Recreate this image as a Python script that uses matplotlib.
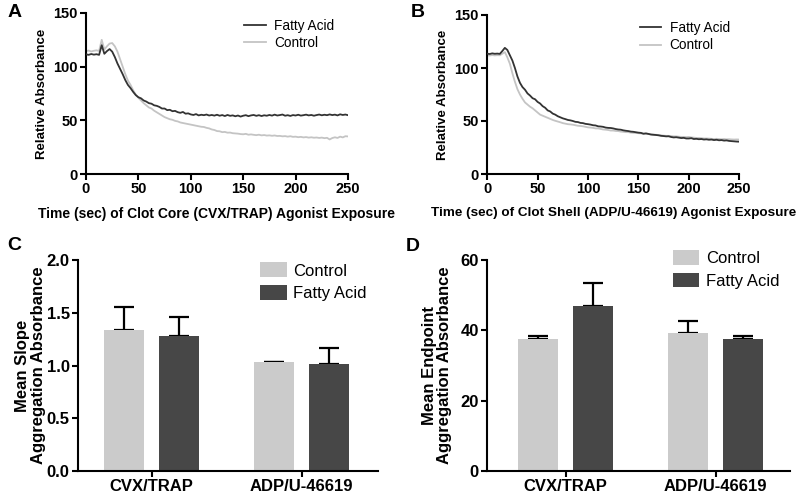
import numpy as np
import matplotlib
matplotlib.use("Agg")
import matplotlib.pyplot as plt

plt.rcParams['font.family'] = ['Liberation Sans', 'DejaVu Sans']

# ---------------- data ----------------
time_s = np.arange(0, 252.5, 2.5)

a_fatty = [111.5, 111.0, 111.8, 111.2, 111.6, 111.0, 120.0, 112.0, 114.5, 116.4,
           114.0, 109.0, 103.0, 98.0, 93.0, 87.5, 83.0, 80.0, 76.5, 73.5,
           71.5, 70.5, 68.5, 67.5, 66.0, 65.5, 64.0, 63.5, 62.5, 61.0,
           61.0, 59.5, 59.8, 58.5, 58.8, 57.6, 57.0, 57.8, 56.2, 56.5,
           55.5, 55.0, 55.8, 54.6, 55.2, 54.8, 55.4, 54.5, 55.0, 54.4,
           55.2, 54.3, 54.9, 54.0, 55.0, 54.2, 54.6, 53.8, 54.5, 53.5,
           54.3, 54.8, 53.9, 54.6, 55.0, 54.2, 54.8, 54.0, 54.7, 54.3,
           55.0, 54.4, 55.3, 54.5, 54.9, 55.4, 54.3, 54.8, 54.1, 54.9,
           54.5, 55.2, 54.4, 54.8, 55.3, 54.6, 55.0, 54.3, 54.9, 55.4,
           54.7, 55.2, 54.8, 55.5, 54.9, 55.3, 54.6, 55.6, 55.0, 55.4,
           54.8]
a_control = [114.5, 115.0, 114.2, 114.8, 115.2, 114.6, 125.0, 116.0, 119.0, 121.5,
             122.0, 119.0, 114.0, 107.0, 100.0, 93.0, 87.0, 83.0, 78.0, 74.0,
             71.0, 68.5, 66.0, 64.0, 62.0, 61.0, 59.0, 57.5, 56.0, 54.5,
             53.0, 52.0, 51.0, 50.5, 49.5, 49.0, 48.0, 47.5, 47.0, 46.5,
             46.0, 45.5, 45.0, 44.5, 44.0, 43.8, 43.0, 42.5, 41.5, 41.0,
             40.0, 39.8, 39.0, 39.2, 38.5, 38.6, 38.0, 37.8, 37.6, 37.2,
             37.0, 37.4, 36.6, 36.9, 36.5, 36.2, 36.6, 36.0, 36.3, 35.8,
             36.0, 35.6, 35.9, 35.4, 35.5, 35.1, 35.3, 34.8, 35.2, 34.6,
             34.8, 34.3, 34.6, 34.1, 34.4, 33.9, 34.2, 33.8, 34.0, 33.6,
             33.9, 33.4, 33.7, 32.2, 33.5, 34.2, 33.6, 34.8, 34.1, 35.2,
             35.0]
b_fatty = [113.5, 113.2, 113.8, 113.4, 113.6, 113.3, 116.0, 119.0, 117.0, 112.0,
           107.0, 100.0, 92.0, 86.0, 82.0, 79.5, 76.0, 74.0, 71.5, 70.5,
           68.0, 66.5, 64.0, 62.5, 60.0, 59.0, 57.0, 56.0, 54.5, 53.5,
           52.5, 51.8, 51.0, 50.6, 50.0, 49.2, 49.0, 48.2, 48.0, 47.3,
           47.0, 46.6, 46.0, 45.8, 45.0, 44.8, 44.5, 43.8, 43.5, 43.4,
           43.0, 42.4, 42.0, 41.8, 41.2, 40.8, 40.5, 40.0, 39.8, 39.4,
           39.0, 38.8, 38.0, 38.3, 37.8, 37.2, 37.0, 36.8, 36.5, 36.0,
           35.8, 35.5, 35.6, 34.9, 34.5, 34.7, 34.3, 33.9, 34.1, 33.5,
           33.5, 33.8, 33.0, 33.2, 32.8, 33.0, 32.5, 32.7, 32.3, 32.5,
           32.0, 32.3, 31.8, 32.0, 31.5, 31.7, 31.2, 31.0, 30.8, 30.6,
           30.5]
b_control = [112.0, 111.8, 112.2, 111.9, 112.1, 112.0, 113.5, 115.0, 110.0, 104.0,
             95.0, 87.0, 80.0, 75.0, 71.0, 67.5, 65.5, 63.5, 62.0, 60.0,
             58.0, 56.0, 55.0, 54.0, 53.0, 52.0, 51.0, 50.2, 49.5, 48.8,
             48.0, 47.5, 47.0, 46.8, 46.5, 46.0, 45.5, 45.3, 45.0, 44.5,
             44.0, 43.8, 43.5, 43.0, 43.0, 42.5, 42.0, 41.8, 41.5, 41.0,
             41.0, 40.6, 40.5, 40.0, 39.8, 39.5, 39.5, 39.0, 38.8, 38.7,
             38.5, 38.3, 38.0, 38.0, 37.8, 37.5, 37.2, 37.0, 36.8, 36.5,
             36.2, 36.0, 36.0, 35.8, 35.5, 35.5, 35.2, 35.0, 35.0, 34.8,
             35.0, 34.5, 34.3, 34.0, 34.0, 33.8, 33.5, 33.5, 33.4, 33.2,
             33.0, 33.2, 33.0, 32.8, 33.0, 32.7, 32.8, 32.6, 32.5, 32.6,
             32.5]

categories = ["CVX/TRAP", "ADP/U-46619"]
slope_control = [1.34, 1.03]
slope_control_err = [0.21, 0.005]
slope_fatty = [1.28, 1.015]
slope_fatty_err = [0.18, 0.155]
end_control = [37.6, 39.3]
end_control_err = [0.8, 3.4]
end_fatty = [46.9, 37.6]
end_fatty_err = [6.6, 0.7]

# ---------------- style ----------------
DARK_LINE = '#333333'
LIGHT_LINE = '#c4c4c4'
BAR_LIGHT = '#cbcbcb'
BAR_DARK = '#474747'
SPW = 1.5

fig = plt.figure(figsize=(8, 5), dpi=100)


def style_axes(ax, tick_fs):
    for s in ['top', 'right']:
        ax.spines[s].set_visible(False)
    for s in ['left', 'bottom']:
        ax.spines[s].set_linewidth(SPW)
        ax.spines[s].set_color('black')
    ax.tick_params(axis='both', direction='out', length=4, width=SPW,
                   labelsize=tick_fs, pad=2)
    for lab in ax.get_xticklabels() + ax.get_yticklabels():
        lab.set_fontweight('bold')


def curve_panel(ax, fatty, control, xlabel, xlab_fs, leg_x):
    ax.plot(time_s, control, color=LIGHT_LINE, lw=1.3, label='Control', zorder=2)
    ax.plot(time_s, fatty, color=DARK_LINE, lw=1.3, label='Fatty Acid', zorder=3)
    ax.set_xlim(0, 250)
    ax.set_ylim(0, 150)
    ax.set_xticks([0, 50, 100, 150, 200, 250])
    ax.set_yticks([0, 50, 100, 150])
    style_axes(ax, 10.5)
    ax.set_xlabel(xlabel, fontsize=xlab_fs, fontweight='bold', labelpad=8)
    ax.set_ylabel('Relative Absorbance', fontsize=9.5, fontweight='bold', labelpad=4)
    h, l = ax.get_legend_handles_labels()
    ax.legend([h[1], h[0]], [l[1], l[0]], loc='upper left',
              bbox_to_anchor=(leg_x, 1.04), frameon=False, fontsize=9.8,
              handlelength=1.6, handletextpad=0.6, labelspacing=0.25)


axA = fig.add_axes([0.1075, 0.652, 0.3275, 0.322])
curve_panel(axA, a_fatty, a_control,
            'Time (sec) of Clot Core (CVX/TRAP) Agonist Exposure', 10.0, 0.557)

axB = fig.add_axes([0.609, 0.652, 0.315, 0.318])
curve_panel(axB, b_fatty, b_control,
            'Time (sec) of Clot Shell (ADP/U-46619) Agonist Exposure', 9.7, 0.556)


def bar_panel(ax, ctrl, ctrl_err, fat, fat_err, ylim, yticks, yfmt, ylabel,
              xlim, ylpad, leg_xy):
    x = np.arange(len(categories))
    w = 0.267
    off = 0.183
    ax.bar(x - off, ctrl, w, color=BAR_LIGHT, label='Control', zorder=2,
           yerr=[[0] * len(ctrl), ctrl_err], capsize=7,
           error_kw=dict(ecolor='black', elinewidth=1.6, capthick=1.6, zorder=1))
    ax.bar(x + off, fat, w, color=BAR_DARK, label='Fatty Acid', zorder=2,
           yerr=[[0] * len(fat), fat_err], capsize=7,
           error_kw=dict(ecolor='black', elinewidth=1.6, capthick=1.6, zorder=1))
    ax.set_xlim(*xlim)
    ax.set_ylim(*ylim)
    ax.set_yticks(yticks)
    ax.set_yticklabels([yfmt.format(v) for v in yticks])
    ax.set_xticks(x)
    ax.set_xticklabels(categories)
    style_axes(ax, 12)
    ax.set_ylabel(ylabel, fontsize=12, fontweight='bold', labelpad=ylpad,
                  linespacing=1.05)
    ax.legend(loc='upper left', bbox_to_anchor=leg_xy, frameon=False,
              fontsize=12, handlelength=1.6, handleheight=1.0,
              handletextpad=0.4, labelspacing=0.4)


axC = fig.add_axes([0.0975, 0.058, 0.375, 0.422])
bar_panel(axC, slope_control, slope_control_err, slope_fatty, slope_fatty_err,
          (0, 2.0), [0.0, 0.5, 1.0, 1.5, 2.0], '{:.1f}',
          'Mean Slope\nAggregation Absorbance', (-0.491, 1.509), 0.5,
          (0.557, 1.06))

axD = fig.add_axes([0.609, 0.058, 0.378, 0.422])
bar_panel(axD, end_control, end_control_err, end_fatty, end_fatty_err,
          (0, 60), [0, 20, 40, 60], '{:d}',
          'Mean Endpoint\nAggregation Absorbance', (-0.523, 1.493), 6,
          (0.564, 1.12))

for txt, (fx, fy) in zip("ABCD", [(0.018, 0.975), (0.522, 0.975),
                                  (0.018, 0.51), (0.516, 0.507)]):
    fig.text(fx, fy, txt, fontsize=14, fontweight='bold', ha='center', va='center')

fig.savefig('out.png', dpi=100)
